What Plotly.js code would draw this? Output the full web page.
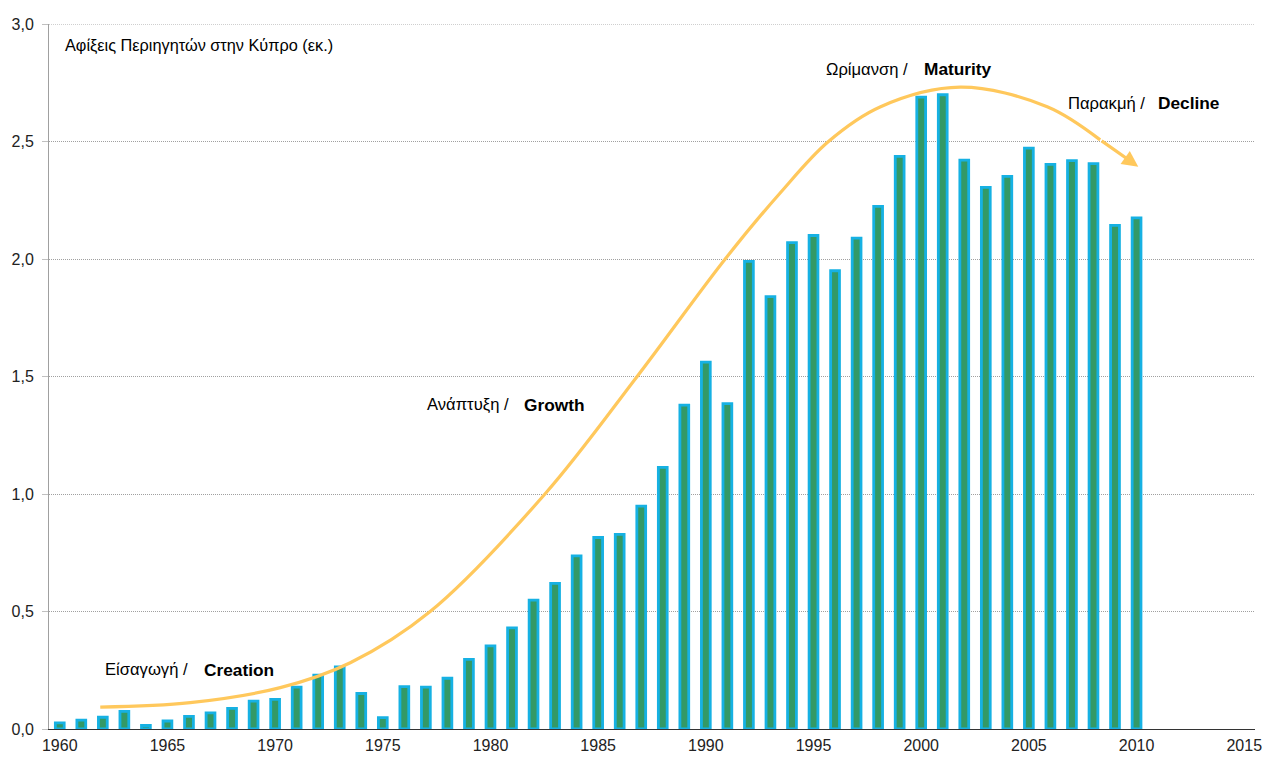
<!DOCTYPE html>
<html>
<head>
<meta charset="utf-8">
<script src="https://cdn.plot.ly/plotly-3.0.1.min.js"></script>
<style>
  html, body { margin: 0; padding: 0; background: #fff; }
  #chart { width: 1266px; height: 758px; }
</style>
</head>
<body>
<div id="chart"></div>
<script>
// Tourist arrivals in Cyprus, millions per year
const years = [
  1960, 1961, 1962, 1963, 1964, 1965, 1966, 1967, 1968, 1969,
  1970, 1971, 1972, 1973, 1974, 1975, 1976, 1977, 1978, 1979,
  1980, 1981, 1982, 1983, 1984, 1985, 1986, 1987, 1988, 1989,
  1990, 1991, 1992, 1993, 1994, 1995, 1996, 1997, 1998, 1999,
  2000, 2001, 2002, 2003, 2004, 2005, 2006, 2007, 2008, 2009, 2010
];
const arrivals = [
  0.026, 0.038, 0.050, 0.075, 0.015, 0.034, 0.054, 0.069, 0.088, 0.119,
  0.126, 0.178, 0.229, 0.264, 0.151, 0.048, 0.180, 0.178, 0.216, 0.296,
  0.354, 0.430, 0.548, 0.620, 0.737, 0.815, 0.828, 0.948, 1.113, 1.378,
  1.561, 1.385, 1.990, 1.840, 2.070, 2.100, 1.950, 2.089, 2.224, 2.437,
  2.689, 2.699, 2.421, 2.305, 2.352, 2.472, 2.403, 2.419, 2.406, 2.143, 2.175
];

// Life-cycle curve drawn over the bars (year, value)
const cycleYears = [
  1961.88, 1966.06, 1970.24, 1973.49, 1977.20, 1982.54, 1986.81,
  1990.90, 1993.45, 1995.68, 1998.09, 2001.81, 2005.85, 2008.31
];
const cycleValues = [
  0.093, 0.112, 0.176, 0.282, 0.500, 1.001, 1.500,
  2.000, 2.281, 2.499, 2.647, 2.731, 2.648, 2.507
];
const arrowTip = [2010.08, 2.393];

// Stage labels: [year, value, greek text, english text, english start year]
const stages = [
  [1962.02, 0.252, 'Είσαγωγή /', 'Creation', 1966.62],
  [1976.97, 1.379, 'Ανάπτυξη /', 'Growth', 1981.47],
  [1995.49, 2.808, 'Ωρίμανση /', 'Maturity', 2000.04],
  [2006.73, 2.663, 'Παρακμή /', 'Decline', 2010.91]
];
const chartLabel = 'Αφίξεις Περιηγητών στην Κύπρο (εκ.)';

const FONT = 'Liberation Sans, Arial, sans-serif';
const CURVE = '#FFC85C';
const GRID = '#a0a0a0';
const GRID_DASH = '1px,1px';

const traces = [
  {
    type: 'bar',
    x: years,
    y: arrivals,
    width: 0.41,
    marker: { color: '#339966', line: { color: '#16B1E3', width: 2.8 } },
    hoverinfo: 'x+y',
    showlegend: false
  },
  {
    type: 'scatter',
    mode: 'lines',
    x: cycleYears,
    y: cycleValues,
    line: { color: CURVE, width: 3.2, shape: 'spline', smoothing: 1 },
    hoverinfo: 'skip',
    showlegend: false
  }
];

const annotations = [
  {
    x: 1960.17, y: 2.911, xref: 'x', yref: 'y',
    text: chartLabel, showarrow: false,
    xanchor: 'left', yanchor: 'middle',
    font: { family: FONT, size: 16.3, color: '#000' }
  },
  {
    x: arrowTip[0], y: arrowTip[1], xref: 'x', yref: 'y',
    ax: cycleYears[cycleYears.length - 1], ay: cycleValues[cycleValues.length - 1],
    axref: 'x', ayref: 'y',
    text: '', showarrow: true,
    arrowhead: 2, arrowsize: 1, arrowwidth: 3.2, arrowcolor: CURVE
  }
];
stages.forEach(s => {
  annotations.push({
    x: s[0], y: s[1], xref: 'x', yref: 'y', text: s[2], showarrow: false,
    xanchor: 'left', yanchor: 'middle',
    font: { family: FONT, size: 16.6, color: '#000' }
  });
  annotations.push({
    x: s[4], y: s[1], xref: 'x', yref: 'y', text: '<b>' + s[3] + '</b>', showarrow: false,
    xanchor: 'left', yanchor: 'middle',
    font: { family: FONT, size: 17.3, color: '#000' }
  });
});

const layout = {
  width: 1266,
  height: 758,
  autosize: false,
  margin: { l: 49, r: 11, t: 24, b: 29, pad: 0 },
  paper_bgcolor: '#fff',
  plot_bgcolor: '#fff',
  separators: ',.',
  font: { family: FONT, size: 16, color: '#222' },
  bargap: 0,
  xaxis: {
    range: [1959.5, 2015.5],
    tick0: 1960,
    dtick: 5,
    showgrid: false,
    zeroline: false,
    showline: true,
    linecolor: '#333',
    linewidth: 1,
    ticks: '',
    ticklabelstandoff: 2,
    tickfont: { family: FONT, size: 16, color: '#222' }
  },
  yaxis: {
    range: [0, 3],
    dtick: 0.5,
    tickformat: '.1f',
    showgrid: true,
    gridcolor: GRID,
    griddash: GRID_DASH,
    gridwidth: 1,
    zeroline: false,
    showline: true,
    linecolor: '#a0a0a0',
    linewidth: 1,
    ticks: 'outside',
    ticklen: 6,
    tickcolor: '#c0c0c0',
    ticklabelstandoff: 5,
    tickfont: { family: FONT, size: 16, color: '#222' }
  },
  // top gridline at the upper end of the value axis
  shapes: [
    {
      type: 'line', xref: 'paper', yref: 'y', x0: 0, x1: 1, y0: 3, y1: 3,
      line: { color: GRID, width: 1, dash: GRID_DASH }, layer: 'below'
    }
  ],
  annotations: annotations
};

Plotly.newPlot('chart', traces, layout, { displayModeBar: false, staticPlot: true });
</script>
</body>
</html>
